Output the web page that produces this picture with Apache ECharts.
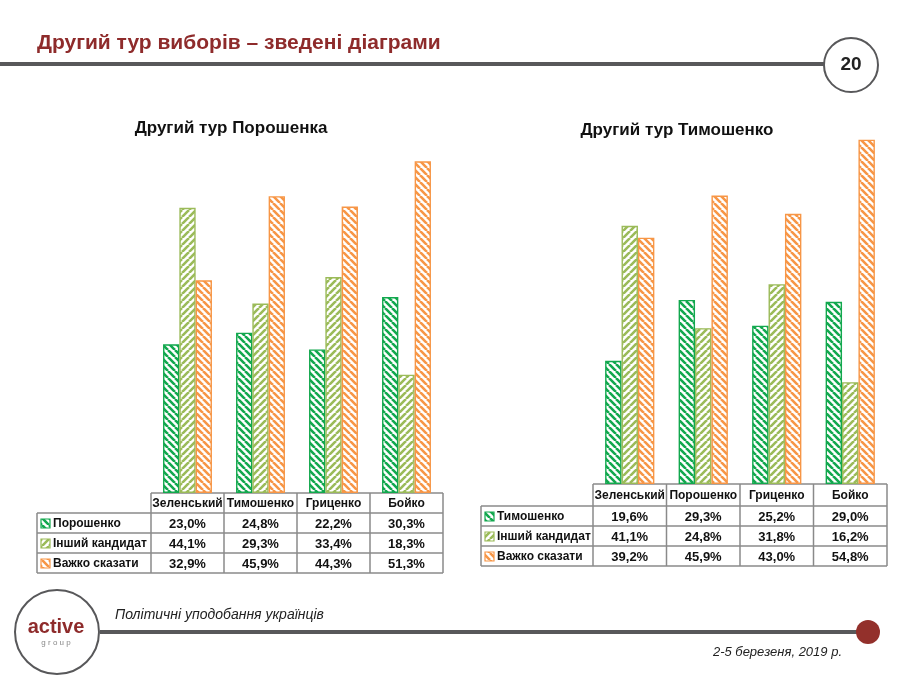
<!DOCTYPE html>
<html><head><meta charset="utf-8">
<script src="https://cdn.jsdelivr.net/npm/echarts@6/dist/echarts.min.js"></script>
<style>html,body{margin:0;padding:0;background:#fff}#c{width:913px;height:680px}</style>
</head><body><div id="c"></div>
<script>
// ---- data ----
const pageTitle = 'Другий тур виборів – зведені діаграми';
const pageNumber = '20';
const footerLeft = 'Політичні уподобання українців';
const footerRight = '2-5 березеня, 2019 р.';

const leftTitle = 'Другий тур Порошенка';
const leftCategories = ['Зеленський', 'Тимошенко', 'Гриценко', 'Бойко'];
const leftNames = ['Порошенко', 'Інший кандидат', 'Важко сказати'];
const leftPoroshenko = [23.0, 24.8, 22.2, 30.3];
const leftOther = [44.1, 29.3, 33.4, 18.3];
const leftHard = [32.9, 45.9, 44.3, 51.3];

const rightTitle = 'Другий тур Тимошенко';
const rightCategories = ['Зеленський', 'Порошенко', 'Гриценко', 'Бойко'];
const rightNames = ['Тимошенко', 'Інший кандидат', 'Важко сказати'];
const rightTymoshenko = [19.6, 29.3, 25.2, 29.0];
const rightOther = [41.1, 24.8, 31.8, 16.2];
const rightHard = [39.2, 45.9, 43.0, 54.8];

// ---- styles ----
const COLORS = ['#12a84e', '#9bbb59', '#f79646'];
const DIRS = ['\\', '/', '\\'];
const GRAY = '#58585a';
const RED = '#8e2b2b';
const FONT2 = '"Liberation Sans", Arial, sans-serif';

function makePattern(color, dir) {
  const s = 7;
  const c = document.createElement('canvas');
  c.width = s; c.height = s;
  const ctx = c.getContext('2d');
  ctx.fillStyle = '#fff';
  ctx.fillRect(0, 0, s, s);
  ctx.strokeStyle = color;
  ctx.lineWidth = 2.6;
  ctx.beginPath();
  for (let k = -1; k <= 1; k++) {
    if (dir === '\\') { ctx.moveTo(k * s, 0); ctx.lineTo(k * s + s, s); }
    else { ctx.moveTo(k * s, s); ctx.lineTo(k * s + s, 0); }
  }
  ctx.stroke();
  return { image: c, repeat: 'repeat' };
}
const PATTERNS = COLORS.map((c, i) => makePattern(c, DIRS[i]));

const fmt = v => v.toFixed(1).replace('.', ',') + '%';

const chart = echarts.init(document.getElementById('c'), null, { renderer: 'canvas' });

const layouts = [
  { left: 151, colW: 73, labelX: 37, top: 105, base: 493, headH: 20, rowH: 20,
    cats: leftCategories, names: leftNames, data: [leftPoroshenko, leftOther, leftHard], title: leftTitle, titleX: 231, titleY: 128 },
  { left: 593, colW: 73.5, labelX: 481, top: 107, base: 484, headH: 22, rowH: 20,
    cats: rightCategories, names: rightNames, data: [rightTymoshenko, rightOther, rightHard], title: rightTitle, titleX: 677, titleY: 130 }
];

const grids = [], xAxes = [], yAxes = [], series = [], graphics = [];
layouts.forEach((L, gi) => {
  const width = L.colW * L.cats.length;
  grids.push({ left: L.left, width: width, top: L.top, bottom: 680 - L.base, containLabel: false });
  xAxes.push({ type: 'category', gridIndex: gi, data: L.cats, axisLine: { show: false }, axisTick: { show: false }, axisLabel: { show: false } });
  yAxes.push({ type: 'value', gridIndex: gi, min: 0, max: 60, show: false, splitLine: { show: false } });
  L.data.forEach((arr, si) => {
    series.push({
      type: 'bar', xAxisIndex: gi, yAxisIndex: gi, name: L.names[si], data: arr,
      barGap: '0%', barCategoryGap: '33%', silent: true,
      itemStyle: { color: PATTERNS[si], borderColor: COLORS[si], borderWidth: 1.4 }
    });
  });
  graphics.push({ type: 'text', x: L.titleX, y: L.titleY, style: { text: L.title, font: 'bold 17px ' + FONT2, fill: '#111', textAlign: 'center', textVerticalAlign: 'middle' } });
  const x0 = L.left, xR = L.left + width;
  const lineStyle = { stroke: '#8a8a8a', lineWidth: 1.5 };
  const yH = L.base, yR0 = L.base + L.headH, yEnd = yR0 + L.rowH * L.names.length;
  graphics.push({ type: 'line', shape: { x1: x0, y1: yH, x2: xR, y2: yH }, style: lineStyle });
  for (let c = 0; c <= L.cats.length; c++) {
    const x = x0 + c * L.colW;
    graphics.push({ type: 'line', shape: { x1: x, y1: yH, x2: x, y2: yEnd }, style: lineStyle });
  }
  for (let r = 0; r <= L.names.length; r++) {
    const y = yR0 + r * L.rowH;
    graphics.push({ type: 'line', shape: { x1: L.labelX, y1: y, x2: xR, y2: y }, style: lineStyle });
  }
  graphics.push({ type: 'line', shape: { x1: L.labelX, y1: yR0, x2: L.labelX, y2: yEnd }, style: lineStyle });
  L.cats.forEach((cat, c) => {
    graphics.push({ type: 'text', x: x0 + (c + 0.5) * L.colW, y: yH + L.headH / 2 + 1, style: { text: cat, font: 'bold 12px ' + FONT2, fill: '#111', textAlign: 'center', textVerticalAlign: 'middle' } });
  });
  L.names.forEach((nm, r) => {
    const yc = yR0 + (r + 0.5) * L.rowH + 1;
    graphics.push({ type: 'rect', shape: { x: L.labelX + 4, y: yc - 5, width: 9, height: 9 }, style: { fill: PATTERNS[r], stroke: COLORS[r], lineWidth: 1.2 } });
    graphics.push({ type: 'text', x: L.labelX + 16, y: yc, style: { text: nm, font: 'bold 12px ' + FONT2, fill: '#111', textAlign: 'left', textVerticalAlign: 'middle' } });
    L.data[r].forEach((v, c) => {
      graphics.push({ type: 'text', x: x0 + (c + 0.5) * L.colW, y: yc, style: { text: fmt(v), font: 'bold 13px ' + FONT2, fill: '#111', textAlign: 'center', textVerticalAlign: 'middle' } });
    });
  });
});

graphics.push({ type: 'text', x: 37, y: 43, style: { text: pageTitle, font: 'bold 21px ' + FONT2, fill: RED, textAlign: 'left', textVerticalAlign: 'middle' } });
graphics.push({ type: 'rect', shape: { x: 0, y: 62, width: 824, height: 4 }, style: { fill: GRAY } });
graphics.push({ type: 'circle', shape: { cx: 851, cy: 65, r: 27 }, style: { fill: '#fff', stroke: GRAY, lineWidth: 2 } });
graphics.push({ type: 'text', x: 851, y: 65, style: { text: pageNumber, font: 'bold 19px ' + FONT2, fill: '#222', textAlign: 'center', textVerticalAlign: 'middle' } });

graphics.push({ type: 'rect', shape: { x: 100, y: 630, width: 768, height: 4 }, style: { fill: GRAY } });
graphics.push({ type: 'circle', shape: { cx: 868, cy: 632, r: 12 }, style: { fill: '#93302b' } });
graphics.push({ type: 'circle', shape: { cx: 57, cy: 632, r: 42 }, style: { fill: '#fff', stroke: GRAY, lineWidth: 2 } });
graphics.push({ type: 'text', x: 56, y: 627, style: { text: 'active', font: 'bold 20px ' + FONT2, fill: RED, textAlign: 'center', textVerticalAlign: 'middle' } });
graphics.push({ type: 'text', x: 56, y: 643, style: { text: 'g r o u p', font: '8px ' + FONT2, fill: '#888', textAlign: 'center', textVerticalAlign: 'middle' } });
graphics.push({ type: 'text', x: 115, y: 615, style: { text: footerLeft, font: 'italic 14px ' + FONT2, fill: '#222', textAlign: 'left', textVerticalAlign: 'middle' } });
graphics.push({ type: 'text', x: 842, y: 652, style: { text: footerRight, font: 'italic 13px ' + FONT2, fill: '#222', textAlign: 'right', textVerticalAlign: 'middle' } });

chart.setOption({
  animation: false,
  grid: grids, xAxis: xAxes, yAxis: yAxes, series: series,
  graphic: { elements: graphics }
});
</script></body></html>
